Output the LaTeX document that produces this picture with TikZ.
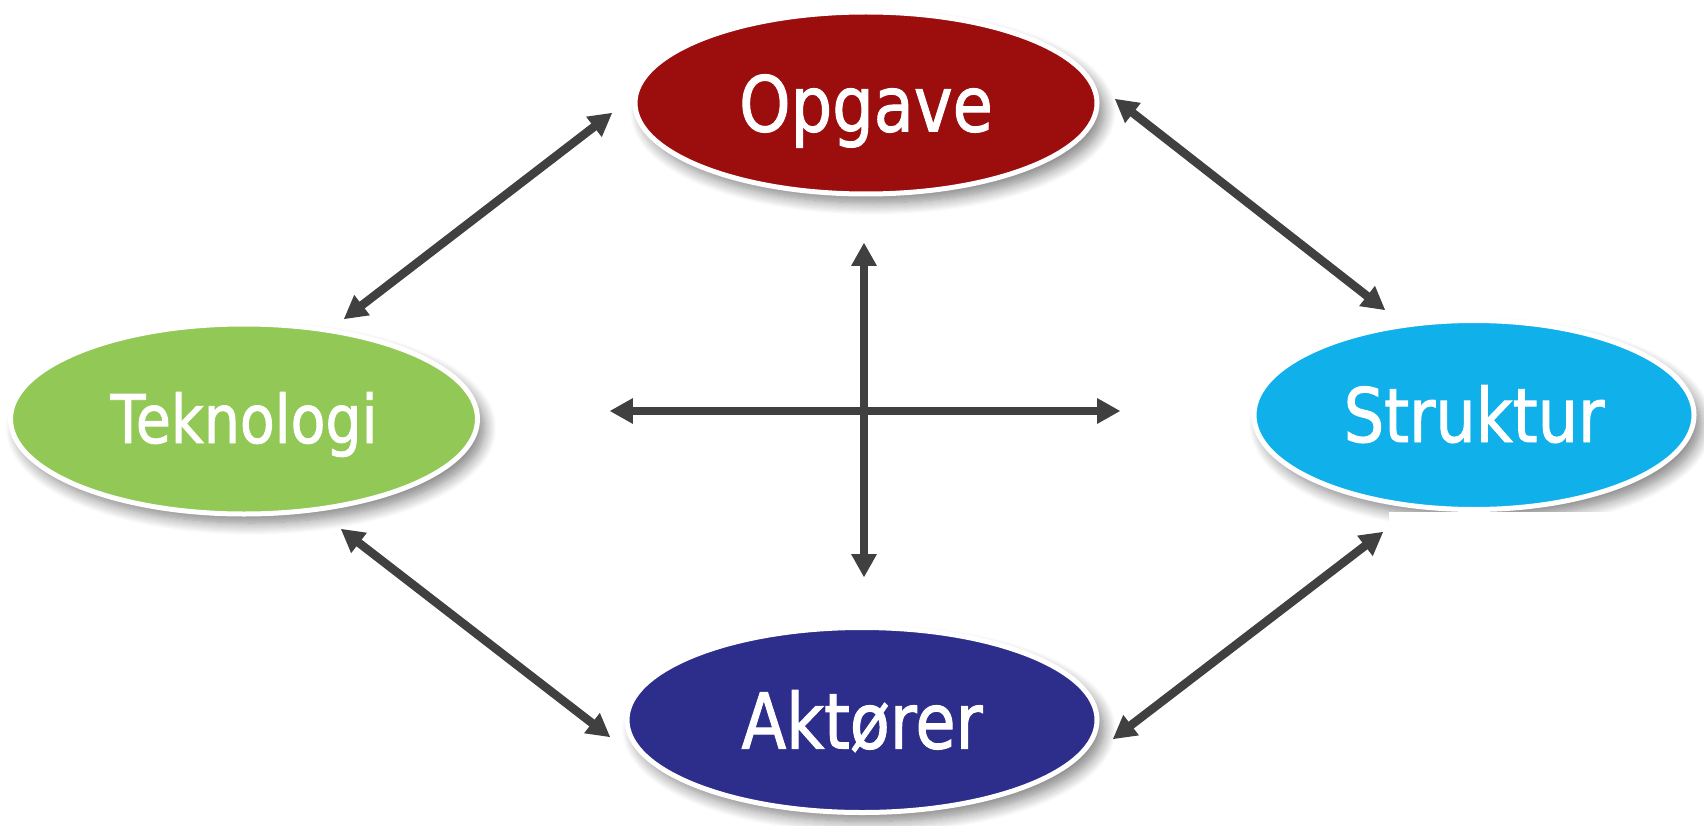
\documentclass[tikz,border=0pt]{standalone}
\usepackage{fontspec}
\newfontfamily\lblfont{DejaVu Sans}[FakeStretch=0.85,FakeBold=1.3]
\usetikzlibrary{shapes.geometric,shadows.blur,calc}

\definecolor{opgred}{RGB}{156,13,14}
\definecolor{tekgreen}{RGB}{146,200,86}
\definecolor{strblue}{RGB}{16,176,234}
\definecolor{aktnavy}{RGB}{45,45,140}
\definecolor{arrowgrey}{RGB}{64,64,64}

% double-headed link between two named coordinates:
% a thick shaft plus a solid triangular head at each end
\newcommand\twowaylink[2]{%
  \draw[linkshaft] ($(#1)!20pt!(#2)$) -- ($(#2)!20pt!(#1)$);
  \fill[arrowgrey] (#1) -- ($(#1)!26.2pt!29.5:(#2)$) -- ($(#1)!26.2pt!-29.5:(#2)$) -- cycle;
  \fill[arrowgrey] (#2) -- ($(#2)!26.2pt!29.5:(#1)$) -- ($(#2)!26.2pt!-29.5:(#1)$) -- cycle;
}

\begin{document}
\begin{tikzpicture}[x=1pt,y=-1pt,
  bubble/.style={ellipse, draw=white, line width=5pt, inner sep=0pt, text=white,
    text depth=0pt,
    blur shadow={shadow xshift=7pt, shadow yshift=-9pt, shadow blur radius=12pt,
                 shadow blur steps=12, shadow opacity=50}},
  linkshaft/.style={draw=arrowgrey, line width=8.5pt}]

\useasboundingbox (0,0) rectangle (1704,826);

% the four ellipses
\node[bubble, fill=opgred, minimum width=462pt, minimum height=182pt,
      font=\lblfont\fontsize{77}{90}\selectfont, text height=57pt]
      (opg) at (866,103) {Opgave};
\node[bubble, fill=tekgreen, minimum width=467pt, minimum height=190pt,
      font=\lblfont\fontsize{67}{78}\selectfont, text height=48pt]
      (tek) at (244,419) {Teknologi};
\node[bubble, fill=strblue, minimum width=440pt, minimum height=189pt,
      font=\lblfont\fontsize{75}{86}\selectfont, text height=54pt]
      (str) at (1474,415) {Struktur};
\node[bubble, fill=aktnavy, minimum width=470pt, minimum height=185pt,
      font=\lblfont\fontsize{77}{90}\selectfont, text height=57pt]
      (akt) at (862,720) {Aktører};

% white patch that trims the shadow under Struktur
\fill[white] (1389,512) rectangle (1704,826);

% end points of the diagonal links
\coordinate (os1) at ($(opg.center)+(249,-4)$);
\coordinate (os2) at ($(str.center)+(-89,-105)$);
\coordinate (sa1) at ($(str.center)+(-91,117)$);
\coordinate (sa2) at ($(akt.center)+(251,19)$);
\coordinate (ot1) at ($(opg.center)+(-254,10)$);
\coordinate (ot2) at ($(tek.center)+(100,-100)$);
\coordinate (ta1) at ($(tek.center)+(97,110)$);
\coordinate (ta2) at ($(akt.center)+(-252,17)$);

\twowaylink{os1}{os2}
\twowaylink{sa1}{sa2}
\twowaylink{ot1}{ot2}
\twowaylink{ta1}{ta2}

% central cross
\coordinate (vtop) at (864,243);
\coordinate (vbot) at (864,577);
\coordinate (hleft) at (610,411);
\coordinate (hright) at (1120,411);
\twowaylink{vtop}{vbot}
\twowaylink{hleft}{hright}

\end{tikzpicture}
\end{document}
